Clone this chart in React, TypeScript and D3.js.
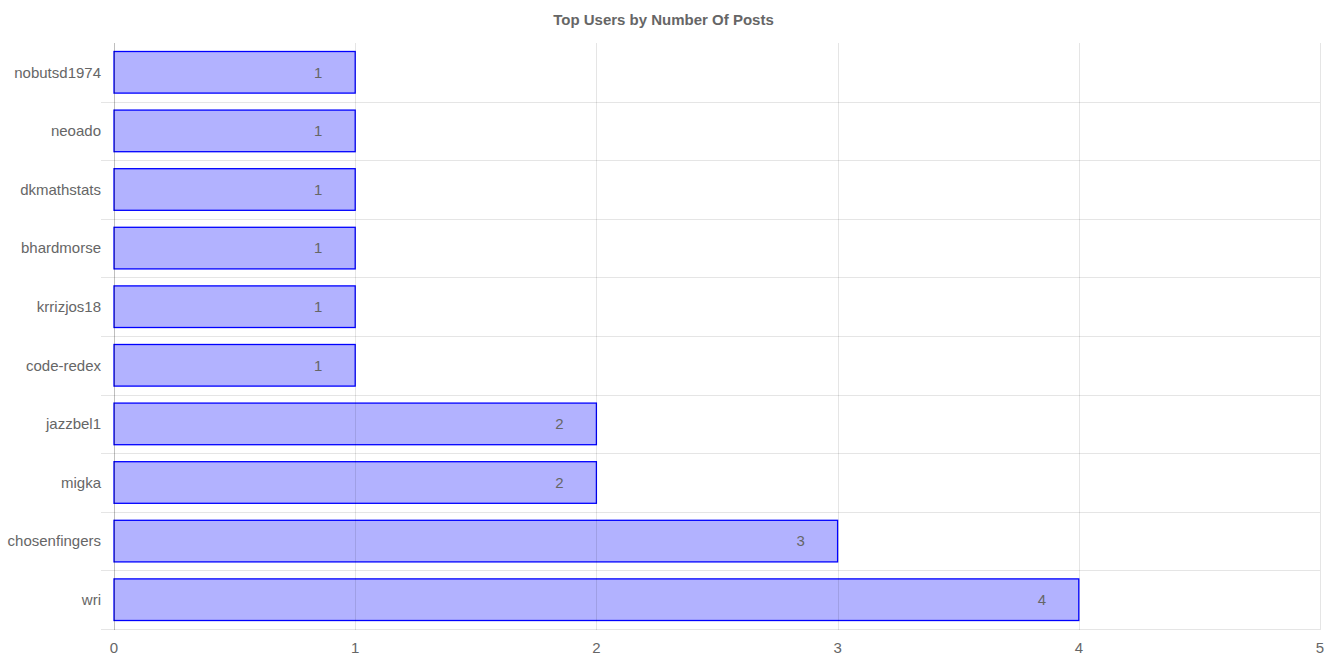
import { useRef, useEffect } from 'react';
import * as d3 from 'd3';

const WIDTH = 1327;
const HEIGHT = 663;
const MARGIN = { top: 43, right: 7, bottom: 34, left: 114 };
const FONT = '"Liberation Sans", Arial, Helvetica, sans-serif';
const TEXT_COLOR = '#666';
const GRID_COLOR = 'rgba(0,0,0,0.1)';

const users = [
  'nobutsd1974', 'neoado', 'dkmathstats', 'bhardmorse', 'krrizjos18',
  'code-redex', 'jazzbel1', 'migka', 'chosenfingers', 'wri',
];
const posts = [1, 1, 1, 1, 1, 1, 2, 2, 3, 4];
const xTicks = [0, 1, 2, 3, 4, 5];

function App() {
  const svgRef = useRef<SVGSVGElement>(null);

  useEffect(() => {
    const svg = d3.select(svgRef.current);
    svg.selectAll('*').remove();

    const x = d3.scaleLinear()
      .domain([0, 5])
      .range([MARGIN.left, WIDTH - MARGIN.right]);

    const y = d3.scaleBand<string>()
      .domain(users)
      .range([MARGIN.top, HEIGHT - MARGIN.bottom]);

    const inner = y.bandwidth() * 0.71;
    const data = users.map((u, i) => ({ user: u, value: posts[i] }));

    // Title
    svg.append('text')
      .attr('x', WIDTH / 2)
      .attr('y', 25)
      .attr('text-anchor', 'middle')
      .attr('fill', TEXT_COLOR)
      .attr('font-family', FONT)
      .attr('font-size', 15)
      .attr('font-weight', 'bold')
      .text('Top Users by Number Of Posts');

    // Horizontal grid (band boundaries, not the top)
    svg.append('g')
      .selectAll('line')
      .data(users)
      .join('line')
      .attr('x1', MARGIN.left - 13)
      .attr('x2', WIDTH - MARGIN.right)
      .attr('y1', d => Math.round((y(d) as number) + y.bandwidth()) + 0.5)
      .attr('y2', d => Math.round((y(d) as number) + y.bandwidth()) + 0.5)
      .attr('stroke', GRID_COLOR);

    // Bars
    svg.append('g')
      .selectAll('rect')
      .data(data)
      .join('rect')
      .attr('x', x(0))
      .attr('y', d => (y(d.user) as number) + (y.bandwidth() - inner) / 2)
      .attr('width', d => x(d.value) - x(0))
      .attr('height', inner)
      .attr('fill', 'rgba(0,0,255,0.3)')
      .attr('stroke', 'rgba(0,0,255,1)')
      .attr('stroke-width', 1.3);

    // Vertical grid (drawn over bars)
    svg.append('g')
      .selectAll('line')
      .data(xTicks)
      .join('line')
      .attr('x1', d => Math.round(x(d)) + 0.5)
      .attr('x2', d => Math.round(x(d)) + 0.5)
      .attr('y1', MARGIN.top)
      .attr('y2', HEIGHT - MARGIN.bottom + 1)
      .attr('stroke', d => (d === 0 ? 'rgba(0,0,0,0.25)' : GRID_COLOR));

    // Value labels
    svg.append('g')
      .selectAll('text')
      .data(data)
      .join('text')
      .attr('x', d => x(d.value) - 37)
      .attr('y', d => (y(d.user) as number) + y.bandwidth() / 2)
      .attr('dy', '0.35em')
      .attr('text-anchor', 'middle')
      .attr('fill', TEXT_COLOR)
      .attr('font-family', FONT)
      .attr('font-size', 15)
      .text(d => d.value);

    // Y labels
    svg.append('g')
      .selectAll('text')
      .data(users)
      .join('text')
      .attr('x', MARGIN.left - 13)
      .attr('y', d => (y(d) as number) + y.bandwidth() / 2)
      .attr('dy', '0.35em')
      .attr('text-anchor', 'end')
      .attr('fill', TEXT_COLOR)
      .attr('font-family', FONT)
      .attr('font-size', 15)
      .text(d => d);

    // X tick labels
    svg.append('g')
      .selectAll('text')
      .data(xTicks)
      .join('text')
      .attr('x', d => x(d))
      .attr('y', HEIGHT - MARGIN.bottom + 19)
      .attr('dy', '0.35em')
      .attr('text-anchor', 'middle')
      .attr('fill', TEXT_COLOR)
      .attr('font-family', FONT)
      .attr('font-size', 15)
      .text(d => d);
  }, []);

  return (
    <svg
      ref={svgRef}
      width={WIDTH}
      height={HEIGHT}
      style={{ position: 'absolute', left: 0, top: 0, background: '#fff' }}
    />
  );
}

export default App;
